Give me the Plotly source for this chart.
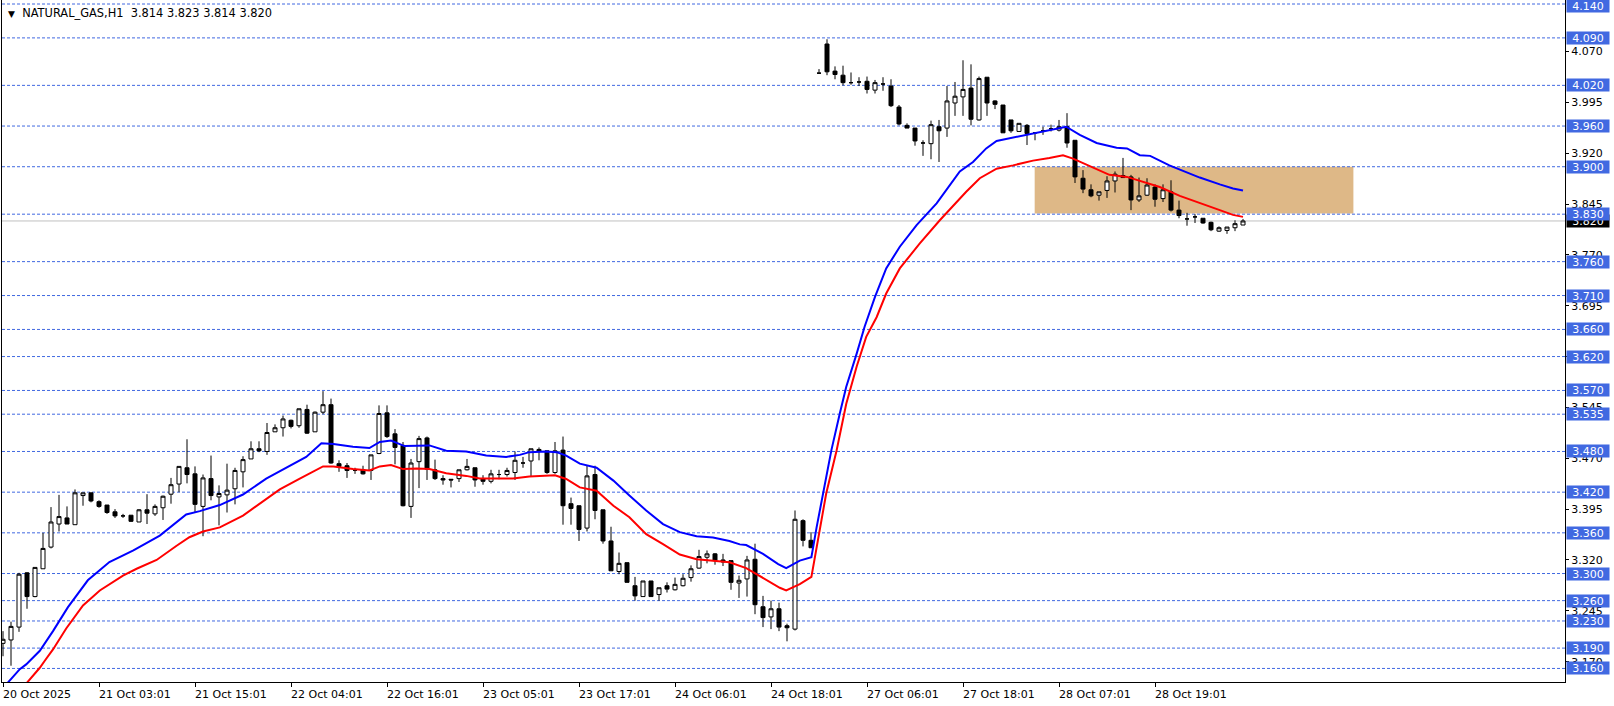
import plotly.graph_objects as go

# ---------------- data ----------------
bar_index = list(range(156))

opens = [
    3.197, 3.202, 3.221, 3.301, 3.266, 3.307, 3.339, 3.373, 3.382, 3.372,
    3.415, 3.419, 3.406, 3.401, 3.391, 3.385, 3.386, 3.376, 3.394, 3.388,
    3.397, 3.417, 3.432, 3.456, 3.447, 3.399, 3.440, 3.413, 3.416, 3.425,
    3.450, 3.469, 3.484, 3.480, 3.509, 3.515, 3.526, 3.518, 3.542, 3.509,
    3.538, 3.549, 3.462, 3.459, 3.452, 3.453, 3.452, 3.477, 3.537, 3.506,
    3.489, 3.399, 3.465, 3.500, 3.453, 3.440, 3.439, 3.440, 3.453, 3.456,
    3.440, 3.436, 3.446, 3.446, 3.449, 3.463, 3.466, 3.483, 3.481, 3.449,
    3.482, 3.403, 3.400, 3.367, 3.446, 3.394, 3.348, 3.303, 3.316, 3.282,
    3.266, 3.289, 3.269, 3.282, 3.276, 3.282, 3.294, 3.308, 3.324, 3.329,
    3.320, 3.319, 3.286, 3.292, 3.321, 3.251, 3.236, 3.248, 3.223, 3.218,
    3.378, 3.349, 4.038, 4.081, 4.041, 4.035, 4.024, 4.025, 4.026, 4.013,
    4.022, 4.019, 3.988, 3.961, 3.957, 3.935, 3.934, 3.959, 3.957, 3.994,
    4.003, 4.016, 3.969, 4.032, 3.997, 3.991, 3.969, 3.952, 3.961, 3.950,
    3.953, 3.956, 3.954, 3.959, 3.939, 3.883, 3.866, 3.858, 3.865, 3.879,
    3.887, 3.885, 3.851, 3.858, 3.870, 3.853, 3.863, 3.836, 3.823, 3.826,
    3.824, 3.818, 3.805, 3.806, 3.810, 3.814]

highs = [
    3.215, 3.229, 3.301, 3.302, 3.309, 3.360, 3.398, 3.416, 3.399, 3.424,
    3.419, 3.419, 3.408, 3.401, 3.395, 3.388, 3.386, 3.395, 3.417, 3.402,
    3.415, 3.441, 3.458, 3.498, 3.458, 3.446, 3.474, 3.430, 3.462, 3.456,
    3.473, 3.495, 3.495, 3.522, 3.520, 3.533, 3.527, 3.543, 3.549, 3.539,
    3.569, 3.558, 3.467, 3.463, 3.456, 3.459, 3.475, 3.548, 3.548, 3.513,
    3.494, 3.469, 3.503, 3.502, 3.468, 3.445, 3.439, 3.453, 3.469, 3.456,
    3.445, 3.453, 3.453, 3.456, 3.480, 3.472, 3.484, 3.486, 3.481, 3.494,
    3.502, 3.412, 3.400, 3.459, 3.459, 3.394, 3.369, 3.331, 3.316, 3.295,
    3.289, 3.289, 3.279, 3.287, 3.294, 3.299, 3.312, 3.335, 3.334, 3.330,
    3.329, 3.319, 3.297, 3.326, 3.344, 3.267, 3.260, 3.257, 3.226, 3.393,
    3.380, 3.361, 4.044, 4.088, 4.048, 4.049, 4.039, 4.032, 4.033, 4.028,
    4.032, 4.029, 3.991, 3.964, 3.957, 3.939, 3.968, 3.969, 4.019, 4.025,
    4.057, 4.051, 4.033, 4.032, 3.998, 3.991, 3.969, 3.964, 3.963, 3.950,
    3.959, 3.962, 3.969, 3.979, 3.939, 3.895, 3.874, 3.863, 3.886, 3.893,
    3.913, 3.888, 3.884, 3.883, 3.874, 3.874, 3.880, 3.850, 3.832, 3.830,
    3.824, 3.819, 3.812, 3.811, 3.821, 3.823]

lows = [
    3.178, 3.164, 3.214, 3.248, 3.265, 3.307, 3.337, 3.362, 3.373, 3.372,
    3.400, 3.405, 3.397, 3.388, 3.382, 3.382, 3.376, 3.376, 3.373, 3.385,
    3.379, 3.403, 3.420, 3.433, 3.390, 3.355, 3.408, 3.371, 3.390, 3.402,
    3.427, 3.469, 3.479, 3.475, 3.509, 3.502, 3.514, 3.515, 3.506, 3.509,
    3.535, 3.462, 3.450, 3.441, 3.447, 3.446, 3.438, 3.476, 3.500, 3.461,
    3.399, 3.382, 3.426, 3.438, 3.438, 3.431, 3.427, 3.435, 3.452, 3.428,
    3.431, 3.433, 3.439, 3.443, 3.438, 3.456, 3.443, 3.467, 3.447, 3.447,
    3.372, 3.372, 3.348, 3.362, 3.380, 3.344, 3.304, 3.299, 3.287, 3.260,
    3.266, 3.266, 3.260, 3.272, 3.275, 3.281, 3.288, 3.307, 3.315, 3.313,
    3.311, 3.276, 3.264, 3.266, 3.240, 3.221, 3.218, 3.215, 3.200, 3.216,
    3.340, 3.338, 4.037, 4.035, 4.029, 4.020, 4.021, 4.019, 4.008, 4.008,
    4.012, 3.988, 3.961, 3.957, 3.931, 3.916, 3.911, 3.907, 3.944, 3.975,
    3.975, 3.961, 3.968, 3.975, 3.985, 3.950, 3.950, 3.952, 3.932, 3.939,
    3.947, 3.952, 3.952, 3.928, 3.876, 3.861, 3.855, 3.850, 3.854, 3.862,
    3.884, 3.836, 3.848, 3.857, 3.841, 3.848, 3.834, 3.824, 3.813, 3.817,
    3.816, 3.805, 3.804, 3.801, 3.805, 3.814]

closes = [
    3.203, 3.222, 3.299, 3.266, 3.309, 3.337, 3.376, 3.384, 3.373, 3.419,
    3.419, 3.407, 3.399, 3.390, 3.385, 3.385, 3.377, 3.394, 3.389, 3.399,
    3.414, 3.431, 3.458, 3.446, 3.402, 3.441, 3.415, 3.418, 3.423, 3.452,
    3.468, 3.484, 3.481, 3.508, 3.515, 3.528, 3.517, 3.543, 3.507, 3.538,
    3.549, 3.463, 3.458, 3.452, 3.452, 3.447, 3.475, 3.536, 3.502, 3.486,
    3.400, 3.463, 3.499, 3.454, 3.440, 3.438, 3.438, 3.453, 3.458, 3.438,
    3.436, 3.447, 3.446, 3.452, 3.467, 3.463, 3.484, 3.480, 3.449, 3.481,
    3.400, 3.396, 3.365, 3.444, 3.393, 3.348, 3.304, 3.315, 3.287, 3.267,
    3.289, 3.266, 3.279, 3.277, 3.284, 3.293, 3.307, 3.325, 3.329, 3.319,
    3.317, 3.287, 3.290, 3.320, 3.254, 3.235, 3.248, 3.221, 3.220, 3.380,
    3.349, 3.338, 4.038, 4.040, 4.036, 4.024, 4.024, 4.025, 4.014, 4.024,
    4.022, 3.990, 3.963, 3.957, 3.938, 3.935, 3.962, 3.953, 3.997, 4.004,
    4.014, 3.970, 4.030, 3.994, 3.992, 3.950, 3.953, 3.964, 3.949, 3.950,
    3.953, 3.956, 3.959, 3.935, 3.885, 3.867, 3.857, 3.863, 3.879, 3.889,
    3.884, 3.851, 3.857, 3.873, 3.852, 3.866, 3.836, 3.828, 3.823, 3.826,
    3.817, 3.807, 3.810, 3.811, 3.816, 3.820]

# blue moving-average line, sampled along the picture (bar position, price)
blue_x = [0.6, 2.1, 2.9, 4.6, 6.25, 8.1, 10.6, 13.3, 16.3, 19.6, 22.9, 24.6, 27.1, 30.0,
          32.9, 35.8, 37.9, 39.8, 41.3, 43.75, 45.8, 47.1, 48.5, 50.2, 51.3, 53.3, 55.4,
          57.9, 60.4, 62.9, 64.6, 65.8, 67.9, 69.2, 70.4, 72.1, 74.2, 76.3, 78.3, 80.4,
          82.5, 84.6, 86.7, 88.75, 90.8, 92.1, 92.9, 95.0, 96.9, 97.9, 99.6, 101.05,
          101.7, 102.5, 103.55, 104.6, 105.4, 106.7, 107.7, 109.0, 110.4, 112.1, 114.2,
          116.7, 119.6, 121.25, 122.9, 124.2, 126.25, 128.75, 130.8, 132.9, 134.6,
          136.7, 139.2, 140.5, 142.1, 143.4, 145.8, 147.9, 149.6, 152.1, 153.75, 155.0]
blue_y = [3.139, 3.159, 3.166, 3.186, 3.215, 3.250, 3.290, 3.317, 3.334, 3.356, 3.387,
          3.392, 3.401, 3.4165, 3.440, 3.458, 3.472, 3.492, 3.491, 3.487, 3.485, 3.494,
          3.496, 3.488, 3.488, 3.489, 3.481, 3.480, 3.474, 3.472, 3.475, 3.479, 3.480,
          3.479, 3.474, 3.462, 3.456, 3.437, 3.415, 3.393, 3.373, 3.361, 3.355, 3.353,
          3.348, 3.343, 3.342, 3.329, 3.314, 3.308, 3.319, 3.324, 3.368, 3.418, 3.482,
          3.536, 3.575, 3.624, 3.664, 3.708, 3.750, 3.782, 3.814, 3.846, 3.893, 3.907,
          3.927, 3.938, 3.943, 3.949, 3.954, 3.959, 3.947, 3.935, 3.928, 3.927, 3.917,
          3.916, 3.902, 3.892, 3.884, 3.874, 3.868, 3.865]

# red moving-average line, sampled along the picture
red_x = [3.0, 4.6, 5.2, 6.25, 7.9, 10.0, 12.1, 15.0, 16.7, 19.2, 21.7, 23.3, 25.0, 27.1,
         30.0, 32.1, 34.6, 37.1, 40.0, 41.3, 43.75, 45.8, 47.1, 48.5, 50.0, 51.7, 53.3,
         55.4, 57.9, 59.6, 63.75, 65.8, 67.9, 69.0, 70.4, 72.1, 74.2, 76.3, 78.3, 80.4,
         82.5, 84.6, 86.7, 88.75, 90.8, 92.9, 95.0, 97.1, 97.9, 99.6, 101.05, 101.7,
         102.9, 104.2, 105.4, 106.7, 107.9, 109.2, 110.4, 112.1, 114.6, 117.1, 119.6,
         120.4, 122.1, 124.2, 126.25, 128.75, 130.8, 132.5, 133.75, 136.3, 138.3, 140.5,
         142.5, 144.6, 147.1, 149.6, 152.1, 153.75, 155.0]
red_y = [3.139, 3.161, 3.171, 3.188, 3.219, 3.253, 3.275, 3.297, 3.307, 3.320, 3.341,
         3.3535, 3.362, 3.368, 3.3855, 3.403, 3.424, 3.440, 3.458, 3.458, 3.454, 3.452,
         3.458, 3.460, 3.454, 3.455, 3.454, 3.448, 3.444, 3.440, 3.440, 3.443, 3.444,
         3.445, 3.4395, 3.427, 3.422, 3.400, 3.383, 3.358, 3.3435, 3.328, 3.321, 3.319,
         3.3165, 3.308, 3.293, 3.279, 3.275, 3.2845, 3.295, 3.339, 3.418, 3.4815, 3.550,
         3.605, 3.649, 3.678, 3.713, 3.750, 3.787, 3.821, 3.853, 3.863, 3.883, 3.897,
         3.902, 3.909, 3.913, 3.917, 3.912, 3.899, 3.888, 3.885, 3.878, 3.870, 3.857,
         3.846, 3.836, 3.829, 3.826]

time_tick_bars = [0, 12, 24, 36, 48, 60, 72, 84, 96, 108, 120, 132, 144]
time_tick_labels = ["20 Oct 2025", "21 Oct 03:01", "21 Oct 15:01", "22 Oct 04:01",
                    "22 Oct 16:01", "23 Oct 05:01", "23 Oct 17:01", "24 Oct 06:01",
                    "24 Oct 18:01", "27 Oct 06:01", "27 Oct 18:01", "28 Oct 07:01",
                    "28 Oct 19:01"]
price_ticks = [3.170, 3.245, 3.320, 3.395, 3.470, 3.545, 3.620, 3.695, 3.770, 3.845,
               3.920, 3.995, 4.070]
level_prices = [4.140, 4.090, 4.020, 3.960, 3.900, 3.830, 3.760, 3.710, 3.660, 3.620,
                3.570, 3.535, 3.480, 3.420, 3.360, 3.300, 3.260, 3.230, 3.190, 3.160]
zone_bars = [128.96, 168.8]
zone_prices = [3.831, 3.900]
last_price = 3.820
title_text = "NATURAL_GAS,H1\u00a0\u00a03.814 3.823 3.814 3.820"

assert len(opens) == len(highs) == len(lows) == len(closes) == len(bar_index)
assert len(blue_x) == len(blue_y) and len(red_x) == len(red_y)

# ---------------- figure ----------------
FONT = "DejaVu Sans"
X_RANGE = [-0.125, 195.25]
Y_RANGE = [3.1400, 4.1459]

fig = go.Figure()
fig.add_trace(go.Candlestick(
    x=bar_index, open=opens, high=highs, low=lows, close=closes,
    increasing=dict(line=dict(color="black", width=1), fillcolor="white"),
    decreasing=dict(line=dict(color="black", width=1), fillcolor="black"),
    whiskerwidth=0, hoverinfo="skip", showlegend=False))
fig.add_trace(go.Scatter(x=blue_x, y=blue_y, mode="lines",
                         line=dict(color="#0000FF", width=2),
                         hoverinfo="skip", showlegend=False))
fig.add_trace(go.Scatter(x=red_x, y=red_y, mode="lines",
                         line=dict(color="#FF0000", width=2),
                         hoverinfo="skip", showlegend=False))

shapes = [dict(type="rect", xref="x", yref="y", x0=zone_bars[0], x1=zone_bars[1],
               y0=zone_prices[0], y1=zone_prices[1], fillcolor="#DEB887",
               line=dict(width=0), layer="below")]
shapes.append(dict(type="line", xref="x", yref="y", x0=X_RANGE[0], x1=X_RANGE[1],
                   y0=last_price, y1=last_price, line=dict(color="#C0C0C0", width=1),
                   layer="below"))
for p in level_prices:
    shapes.append(dict(type="line", xref="x", yref="y", x0=X_RANGE[0], x1=X_RANGE[1],
                       y0=p, y1=p, line=dict(color="#4169E1", width=1, dash="3px,2px"),
                       layer="below"))

annotations = []
# title
annotations.append(dict(
    xref="paper", yref="paper", x=0, y=1, xanchor="left", yanchor="top",
    xshift=5, yshift=-5, showarrow=False, borderpad=0, align="left",
    text='<span style="font-size:9px">\u25BC</span>\u00a0\u00a0' + title_text,
    font=dict(family=FONT, size=11.4, color="black")))
# time labels (left-aligned at their ticks)
for b, lab in zip(time_tick_bars, time_tick_labels):
    annotations.append(dict(
        xref="x", yref="paper", x=b, y=0, xanchor="left", yanchor="top",
        yshift=-5, xshift=-1, showarrow=False, borderpad=0, text=lab,
        font=dict(family=FONT, size=11, color="black")))
# current price label (black)
annotations.append(dict(
    xref="paper", yref="y", x=1, y=last_price, xanchor="left", yanchor="middle",
    xshift=1, showarrow=False, borderpad=0, width=42, height=12, align="center",
    bgcolor="black", text=f"{last_price:.3f}",
    font=dict(family=FONT, size=11, color="white")))
# horizontal line price labels (blue); the topmost is kept inside the page
for p in level_prices:
    annotations.append(dict(
        xref="paper", yref="y", x=1, y=p, xanchor="left", yanchor="middle",
        xshift=1, yshift=(-2 if p == max(level_prices) else 0),
        showarrow=False, borderpad=0, width=42, height=12, align="center",
        bgcolor="#4169E1", text=f"{p:.3f}",
        font=dict(family=FONT, size=11, color="white")))

fig.update_layout(
    width=1614, height=706,
    margin=dict(l=2, r=49, t=0, b=24),
    paper_bgcolor="white", plot_bgcolor="white",
    showlegend=False, hovermode=False,
    boxgap=0.5, boxgroupgap=0,
    shapes=shapes, annotations=annotations,
    xaxis=dict(range=X_RANGE, showgrid=False, zeroline=False, showline=True,
               linecolor="black", linewidth=1, ticks="outside", ticklen=4,
               tickcolor="black", tickvals=time_tick_bars, showticklabels=False,
               rangeslider=dict(visible=False), fixedrange=True),
    yaxis=dict(range=Y_RANGE, side="right", showgrid=False, zeroline=False,
               showline=True, mirror=True, linecolor="black", linewidth=1,
               ticks="outside", ticklen=3, tickcolor="black",
               tickvals=price_ticks, tickformat=".3f",
               tickfont=dict(family=FONT, size=11, color="black"), fixedrange=True),
)

fig.write_html(
    "out.html", config={"displayModeBar": False},
    post_script="document.body.style.margin='0';document.body.style.padding='0';"
                "document.body.style.overflow='hidden';")
